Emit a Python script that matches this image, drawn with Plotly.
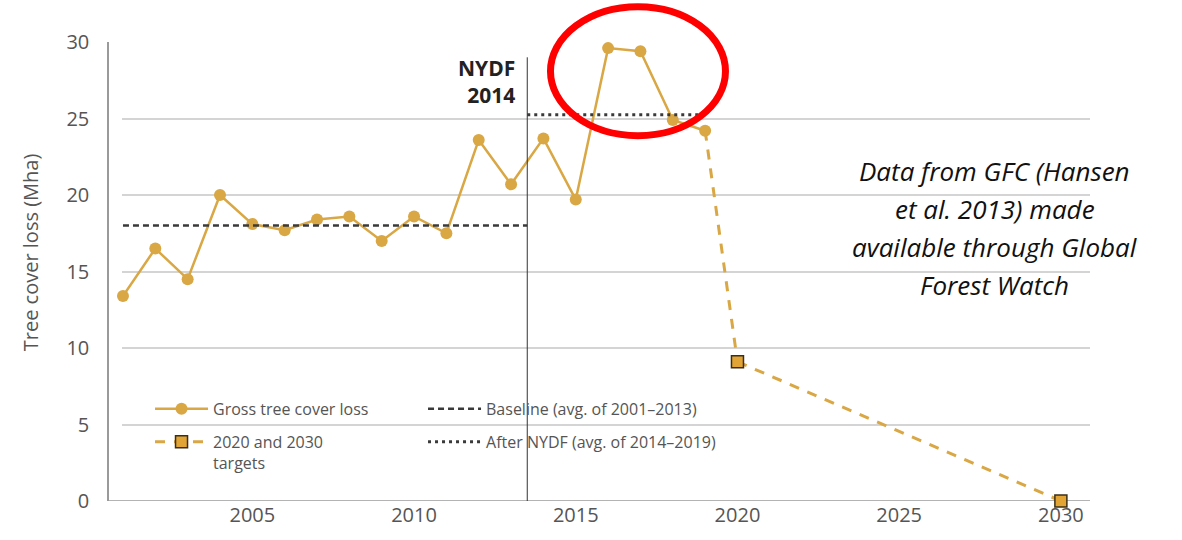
import plotly.graph_objects as go

# Gross tree cover loss (Mha), GFC / Global Forest Watch
years = [2001, 2002, 2003, 2004, 2005, 2006, 2007, 2008, 2009, 2010,
         2011, 2012, 2013, 2014, 2015, 2016, 2017, 2018, 2019]
gross_loss = [13.4, 16.5, 14.5, 20.0, 18.1, 17.7, 18.4, 18.6, 17.0, 18.6,
              17.5, 23.6, 20.7, 23.7, 19.7, 29.6, 29.4, 24.9, 24.2]

# NYDF targets: halve loss by 2020, end it by 2030
target_years = [2020, 2030]
target_values = [9.1, 0.0]

# Reference averages
baseline_span = [2001, 2013.5]
baseline_value = 18.0
after_span = [2013.5, 2019]
after_value = 25.25

nydf_year = 2013.5
nydf_top = 29.0

y_ticks = [0, 5, 10, 15, 20, 25, 30]
x_ticks = [2005, 2010, 2015, 2020, 2025, 2030]

note_lines = ["Data from GFC (Hansen", "et al. 2013) made",
              "available through Global", "Forest Watch"]

GOLD = "#D9A744"
SQUARE = "#E2A535"
DARK = "#3a3a3a"
TEXT = "#555555"
FONT = "Open Sans"

fig = go.Figure()

fig.add_trace(go.Scatter(
    x=years, y=gross_loss, mode="lines+markers", name="Gross tree cover loss",
    line=dict(color=GOLD, width=2.5), marker=dict(color=GOLD, size=12),
    cliponaxis=False, legend="legend", legendgroup="g1",
))
# dashed connector from the last observed year to the first target
fig.add_trace(go.Scatter(
    x=[years[-1], target_years[0]], y=[gross_loss[-1], target_values[0]],
    mode="lines", line=dict(color=GOLD, width=3, dash="10px,9px"),
    showlegend=False, hoverinfo="skip",
))
fig.add_trace(go.Scatter(
    x=target_years, y=target_values, mode="lines+markers",
    name="2020 and 2030<br>targets",
    line=dict(color=GOLD, width=3, dash="10px,9px"),
    marker=dict(symbol="square", color=SQUARE, size=12,
                line=dict(color="#3b2f18", width=1.5)),
    cliponaxis=False, legend="legend", legendgroup="g2",
))
fig.add_trace(go.Scatter(
    x=baseline_span, y=[baseline_value, baseline_value], mode="lines",
    name="Baseline (avg. of 2001–2013)",
    line=dict(color=DARK, width=2.5, dash="6px,4px"),
    legend="legend2", legendgroup="g3",
))
fig.add_trace(go.Scatter(
    x=after_span, y=[after_value, after_value], mode="lines",
    name="After NYDF (avg. of 2014–2019)",
    line=dict(color=DARK, width=3, dash="3px,4px"),
    legend="legend2", legendgroup="g4",
))

shapes = [
    # white panel behind the legends
    dict(type="rect", xref="paper", yref="paper", x0=0.04, x1=0.695,
         y0=0.05, y1=0.25, fillcolor="white", line=dict(width=0), layer="between"),
    # NYDF marker line
    dict(type="line", xref="x", yref="y", x0=nydf_year, x1=nydf_year,
         y0=0, y1=nydf_top, line=dict(color="#333333", width=1)),
    # bottom axis line, running to the left axis
    dict(type="line", xref="paper", yref="y", x0=0, x1=1, y0=0, y1=0,
         line=dict(color="#9a9a9a", width=1.5), layer="below"),
    # highlight ellipse around the 2016-2017 peak
    dict(type="circle", xref="paper", yref="paper", x0=0.4506, x1=0.6288,
         y0=0.7959, y1=1.0767, line=dict(color="#FF0000", width=7)),
]

annotations = [
    dict(text="<b>NYDF<br>2014</b>", x=nydf_year, y=nydf_top, xref="x", yref="y",
         xanchor="right", yanchor="top", align="right", xshift=-10, yshift=5,
         showarrow=False, font=dict(family=FONT, size=21, color="#222222")),
    dict(text="Tree cover loss (Mha)", textangle=-90, x=-0.0794, y=0.542,
         xref="paper", yref="paper", xanchor="center", yanchor="middle",
         showarrow=False, font=dict(family=FONT, size=20, color=TEXT)),
]
note_y = [0.719, 0.637, 0.553, 0.471]
for line, yy in zip(note_lines, note_y):
    annotations.append(dict(
        text=f"<i>{line}</i>", x=0.903, y=yy, xref="paper", yref="paper",
        xanchor="center", yanchor="middle", showarrow=False,
        font=dict(family="Open Sans", size=26, color="#111111")))

legend_style = dict(
    bgcolor="rgba(0,0,0,0)", font=dict(family=FONT, size=16, color=TEXT),
    orientation="v", itemwidth=53, tracegroupgap=9, valign="top",
    xanchor="left", yanchor="top", traceorder="grouped",
)

fig.update_layout(
    width=1182, height=540,
    margin=dict(l=108, r=92, t=42, b=35),
    paper_bgcolor="white", plot_bgcolor="white",
    font=dict(family=FONT, color=TEXT),
    showlegend=True,
    legend=dict(x=0.0428, y=0.2376, **legend_style),
    legend2=dict(x=0.3208, y=0.2376, **legend_style),
    xaxis=dict(domain=[14 / 982, 1], range=[2000.97, 2030.9],
               tickvals=x_ticks, ticktext=[str(t) for t in x_ticks],
               showgrid=False, zeroline=False, showline=False, ticks="",
               tickfont=dict(family=FONT, size=20, color=TEXT)),
    yaxis=dict(range=[0, 30], anchor="free", position=0,
               tickvals=y_ticks, showgrid=True, gridcolor="#d4d4d4", gridwidth=1.5,
               zeroline=False, showline=True, linecolor="#9a9a9a", linewidth=1.5,
               ticks="", ticklabelstandoff=14,
               tickfont=dict(family=FONT, size=20, color=TEXT)),
    shapes=shapes, annotations=annotations,
)

fig.write_html("out.html")
